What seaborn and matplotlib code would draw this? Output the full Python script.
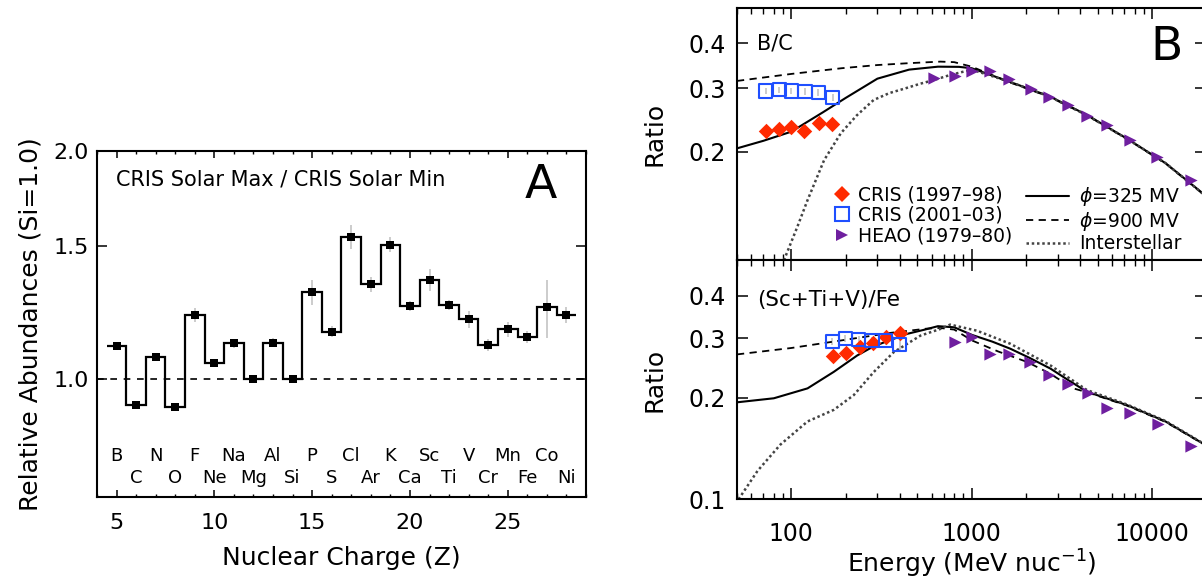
import numpy as np
import matplotlib.pyplot as plt
import matplotlib.ticker as mticker
from matplotlib.lines import Line2D
from matplotlib.transforms import blended_transform_factory
import seaborn as sns

# ---- Panel A: CRIS solar max / solar min abundances ----
charge = [5, 6, 7, 8, 9, 10, 11, 12, 13, 14, 15, 16,
          17, 18, 19, 20, 21, 22, 23, 24, 25, 26, 27, 28]
elements = ["B", "C", "N", "O", "F", "Ne", "Na", "Mg", "Al", "Si", "P", "S",
            "Cl", "Ar", "K", "Ca", "Sc", "Ti", "V", "Cr", "Mn", "Fe", "Co", "Ni"]
abund_ratio = [1.105, 0.924, 1.071, 0.920, 1.215, 1.051, 1.115, 1.000,
               1.117, 1.000, 1.303, 1.155, 1.540, 1.334, 1.504, 1.249,
               1.350, 1.252, 1.199, 1.109, 1.163, 1.136, 1.243, 1.216]
abund_err = [0.010, 0.010, 0.012, 0.010, 0.025, 0.012, 0.015, 0.012,
             0.015, 0.000, 0.050, 0.020, 0.055, 0.030, 0.035, 0.020,
             0.045, 0.020, 0.030, 0.020, 0.025, 0.020, 0.110, 0.030]

# ---- Panel B (top): B/C ----
bc_cris97_e = [72, 85, 100, 118, 142, 169]
bc_cris97_r = [0.228, 0.231, 0.235, 0.228, 0.241, 0.239]
bc_cris01_e = [72, 86, 100, 119, 141, 170]
bc_cris01_r = [0.295, 0.297, 0.295, 0.294, 0.292, 0.283]
bc_cris01_err = [0.006, 0.006, 0.006, 0.006, 0.006, 0.007]
bc_heao_e = [616, 805, 1005, 1269, 1602, 2140, 2692, 3416, 4352, 5656, 7555, 10620, 16440]
bc_heao_r = [0.320, 0.325, 0.335, 0.335, 0.318, 0.298, 0.284, 0.270, 0.252,
             0.237, 0.215, 0.194, 0.167]

bc_325_e = [50, 70, 100, 150, 200, 300, 450, 650, 850, 1000, 1600, 2700,
            4350, 7200, 11900, 20000]
bc_325_r = [0.2044, 0.2145, 0.2274, 0.2575, 0.2820, 0.3190, 0.3380, 0.3444,
            0.3440, 0.3410, 0.3135, 0.2850, 0.2530, 0.2180, 0.1858, 0.1505]
bc_900_e = [50, 100, 190, 300, 440, 670, 800, 1000, 1600, 2700, 4350, 7200,
            11900, 20000]
bc_900_r = [0.3144, 0.3288, 0.3410, 0.3480, 0.3520, 0.3557, 0.3545, 0.3444,
            0.3125, 0.2840, 0.2525, 0.2175, 0.1855, 0.1500]
bc_lis_e = [91, 108, 123, 152, 188, 230, 286, 350, 430, 520, 615, 750, 900,
            1000, 1600, 2700, 4350, 7200, 11900, 20000]
bc_lis_r = [0.100, 0.1238, 0.1468, 0.1896, 0.2250, 0.2520, 0.2784, 0.2910,
            0.3000, 0.3090, 0.3160, 0.3260, 0.3336, 0.3380, 0.3135, 0.2845,
            0.2525, 0.2178, 0.1858, 0.1503]

# ---- Panel B (bottom): (Sc+Ti+V)/Fe ----
sf_cris97_e = [170, 200, 239, 283, 337, 399]
sf_cris97_r = [0.265, 0.271, 0.282, 0.291, 0.302, 0.311]
sf_cris97_err = [0.008, 0.008, 0.008, 0.008, 0.009, 0.010]
sf_cris01_e = [169, 199, 236, 280, 334, 399]
sf_cris01_r = [0.293, 0.300, 0.297, 0.295, 0.295, 0.287]
sf_cris01_err = [0.007, 0.007, 0.007, 0.007, 0.008, 0.010]
sf_heao_e = [812, 1005, 1269, 1602, 2113, 2668, 3399, 4385, 5656, 7553, 10836, 16440]
sf_heao_r = [0.292, 0.303, 0.270, 0.270, 0.255, 0.233, 0.219, 0.206, 0.186,
             0.180, 0.167, 0.144]

sf_325_e = [50, 80, 123, 172, 232, 287, 438, 550, 650, 800, 1005, 1300, 1640,
            2100, 2730, 3400, 4350, 7230, 11870, 18900, 20000]
sf_325_r = [0.1937, 0.1991, 0.2130, 0.2384, 0.2666, 0.2840, 0.3088, 0.3180,
            0.3255, 0.3230, 0.3066, 0.2930, 0.2790, 0.2620, 0.2438, 0.2260,
            0.2082, 0.1902, 0.1700, 0.1468, 0.1442]
sf_900_e = [50, 100, 188, 355, 560, 670, 800, 1005, 1400, 2030, 2700, 3660,
            4350, 7230, 11870, 20000]
sf_900_r = [0.2685, 0.2805, 0.2952, 0.3110, 0.3200, 0.3215, 0.3180, 0.2952,
            0.2740, 0.2550, 0.2360, 0.2130, 0.2075, 0.1895, 0.1695, 0.1440]
sf_lis_e = [51, 65, 87, 123, 172, 222, 287, 370, 520, 670, 760, 1070, 1640,
            2730, 4350, 7230, 11870, 20000]
sf_lis_r = [0.100, 0.1214, 0.1452, 0.1700, 0.1840, 0.2035, 0.2384, 0.2728,
            0.3052, 0.3194, 0.3290, 0.3156, 0.2886, 0.2492, 0.2106, 0.1910,
            0.1705, 0.1445]

red = "#ff2a00"
blue = "#1f4fff"
purple = "#6f1f9f"
grey_err = "#c4c4c4"

sns.set_theme(style="ticks")
plt.rcParams["font.family"] = ["DejaVu Sans"]
plt.rcParams["axes.linewidth"] = 1.5
plt.rcParams["axes.edgecolor"] = "black"
plt.rcParams["text.color"] = "black"
plt.rcParams["axes.labelcolor"] = "black"
plt.rcParams["xtick.color"] = "black"
plt.rcParams["ytick.color"] = "black"

fig = plt.figure(figsize=(12.02, 5.81), dpi=100)

# ================= Panel A =================
axA = fig.add_axes([97 / 1202, 84.3 / 581, 489 / 1202, 346 / 581])
axA.set_yscale("log")

axA.axhline(1.0, color="black", lw=1.2, ls=(0, (4, 4)), zorder=1)
axA.errorbar(charge, abund_ratio, yerr=abund_err, fmt="none",
             ecolor=grey_err, elinewidth=1.2, zorder=1)
edges = np.append(np.array(charge) - 0.5, charge[-1] + 0.5)
axA.stairs(abund_ratio, edges, baseline=None, color="black", lw=1.6, zorder=2)
sns.scatterplot(x=charge, y=abund_ratio, marker="s", color="black",
                edgecolor="black", linewidth=0, s=32, ax=axA, zorder=3,
                legend=False)

axA.set_xlim(4, 29)
axA.set_ylim(0.7, 2.0)
axA.xaxis.set_major_locator(mticker.MultipleLocator(5))
axA.xaxis.set_minor_locator(mticker.MultipleLocator(1))
axA.yaxis.set_major_locator(mticker.FixedLocator([1.0, 1.5, 2.0]))
axA.yaxis.set_major_formatter(mticker.FixedFormatter(["1.0", "1.5", "2.0"]))
axA.yaxis.set_minor_locator(mticker.NullLocator())
axA.tick_params(axis="x", which="major", direction="in", length=5, width=1.1,
                top=True, labelsize=16, pad=12)
axA.tick_params(axis="x", which="minor", direction="in", length=2.5, width=1.0,
                top=True)
axA.tick_params(axis="y", which="major", direction="in", length=7, width=1.1,
                right=True, labelsize=16, pad=6)
axA.set_xlabel("Nuclear Charge (Z)", fontsize=18, labelpad=9)
axA.set_ylabel("Relative Abundances (Si=1.0)", fontsize=18, labelpad=8)

trA = blended_transform_factory(axA.transData, axA.transAxes)
for i, (z, el) in enumerate(zip(charge, elements)):
    yrow = 0.118 if i % 2 == 0 else 0.054
    axA.text(z, yrow, el, transform=trA, ha="center", va="center", fontsize=13)

axA.text(0.039, 0.918, "CRIS Solar Max / CRIS Solar Min", transform=axA.transAxes,
         ha="left", va="center", fontsize=15)
axA.text(0.908, 0.898, "A", transform=axA.transAxes, ha="center", va="center",
         fontsize=34)

# ================= Panel B =================
axT = fig.add_axes([737 / 1202, (581 - 260.3) / 581, 469.4 / 1202, 252 / 581])
axB = fig.add_axes([737 / 1202, (581 - 499.3) / 581, 469.4 / 1202, 239 / 581])

dotted = (0, (1, 1.1))
dashed = (0, (4, 3))


def draw_panel(ax, e325, r325, e900, r900, elis, rlis,
               e97, r97, err97, e01, r01, err01, eheao, rheao):
    ax.set_xscale("log")
    ax.set_yscale("log")
    sns.lineplot(x=e325, y=r325, color="black", lw=1.5, sort=False,
                 estimator=None, ax=ax, zorder=2)
    sns.lineplot(x=e900, y=r900, color="black", lw=1.3, linestyle=dashed,
                 sort=False, estimator=None, ax=ax, zorder=2)
    sns.lineplot(x=elis, y=rlis, color="#444444", lw=1.8, linestyle=dotted,
                 sort=False, estimator=None, ax=ax, zorder=2)
    if err97 is not None:
        ax.errorbar(e97, r97, yerr=err97, fmt="none", ecolor=grey_err,
                    elinewidth=1.2, zorder=1)
    if err01 is not None:
        ax.errorbar(e01, r01, yerr=err01, fmt="none", ecolor=grey_err,
                    elinewidth=1.2, zorder=1)
    sns.scatterplot(x=e97, y=r97, marker="D", color=red, edgecolor=red,
                    linewidth=0, s=62, ax=ax, zorder=3, legend=False)
    sns.scatterplot(x=e01, y=r01, marker="s", facecolor="none", edgecolor=blue,
                    linewidth=1.5, s=90, ax=ax, zorder=3, legend=False)
    sns.scatterplot(x=eheao, y=rheao, marker=">", color=purple, edgecolor=purple,
                    linewidth=0, s=78, ax=ax, zorder=3, legend=False)

    ax.set_xlim(50, 20000)
    ax.xaxis.set_major_locator(mticker.FixedLocator([100, 1000, 10000]))
    ax.xaxis.set_major_formatter(mticker.FuncFormatter(lambda v, _: f"{v:g}"))
    ax.xaxis.set_minor_locator(mticker.LogLocator(base=10, subs=np.arange(2, 10)))
    ax.xaxis.set_minor_formatter(mticker.NullFormatter())
    ax.yaxis.set_minor_locator(mticker.NullLocator())
    ax.tick_params(axis="x", which="major", direction="in", length=8, width=1.1,
                   top=True, labelsize=17, pad=16)
    ax.tick_params(axis="x", which="minor", direction="in", length=4, width=1.0,
                   top=True)
    ax.tick_params(axis="y", which="major", direction="in", length=8, width=1.1,
                   right=True, labelsize=17, pad=8)
    ax.set_ylabel("Ratio", fontsize=18, labelpad=16)


draw_panel(axT, bc_325_e, bc_325_r, bc_900_e, bc_900_r, bc_lis_e, bc_lis_r,
           bc_cris97_e, bc_cris97_r, None, bc_cris01_e, bc_cris01_r, bc_cris01_err,
           bc_heao_e, bc_heao_r)
draw_panel(axB, sf_325_e, sf_325_r, sf_900_e, sf_900_r, sf_lis_e, sf_lis_r,
           sf_cris97_e, sf_cris97_r, sf_cris97_err, sf_cris01_e, sf_cris01_r,
           sf_cris01_err, sf_heao_e, sf_heao_r)

axT.set_ylim(0.1, 0.5)
axT.yaxis.set_major_locator(mticker.FixedLocator([0.2, 0.3, 0.4]))
axT.yaxis.set_major_formatter(mticker.FixedFormatter(["0.2", "0.3", "0.4"]))
axT.tick_params(axis="x", labelbottom=False)
axT.set_xlabel("")

axB.set_ylim(0.1, 0.51)
axB.yaxis.set_major_locator(mticker.FixedLocator([0.1, 0.2, 0.3, 0.4]))
axB.yaxis.set_major_formatter(mticker.FixedFormatter(["0.1", "0.2", "0.3", "0.4"]))
axB.set_xlabel("Energy (MeV nuc$^{-1}$)", fontsize=18, labelpad=2)

axT.text(0.042, 0.861, "B/C", transform=axT.transAxes, ha="left", va="center",
         fontsize=15)
axB.text(0.042, 0.833, "(Sc+Ti+V)/Fe", transform=axB.transAxes, ha="left",
         va="center", fontsize=15.5)
axT.text(0.916, 0.846, "B", transform=axT.transAxes, ha="center", va="center",
         fontsize=34)

# legend, two blocks
mark_handles = [
    Line2D([], [], marker="D", color=red, ls="none", ms=8, mew=0),
    Line2D([], [], marker="s", mfc="none", mec=blue, mew=1.5, ls="none", ms=9.5),
    Line2D([], [], marker=">", color=purple, ls="none", ms=8.8, mew=0),
]
mark_labels = ["CRIS (1997\u201398)", "CRIS (2001\u201303)", "HEAO (1979\u201380)"]
line_handles = [
    Line2D([], [], color="black", lw=1.5),
    Line2D([], [], color="black", lw=1.3, ls=dashed),
    Line2D([], [], color="#444444", lw=1.8, ls=dotted),
]
line_labels = ["$\\phi$=325 MV", "$\\phi$=900 MV", "Interstellar"]

leg1 = axT.legend(mark_handles, mark_labels, loc="upper left",
                  bbox_to_anchor=(0.203, 0.297), frameon=False, fontsize=13.5,
                  handlelength=1.0, handletextpad=0.35, labelspacing=0.07,
                  borderpad=0, borderaxespad=0)
axT.add_artist(leg1)
axT.legend(line_handles, line_labels, loc="upper left",
           bbox_to_anchor=(0.615, 0.297), frameon=False, fontsize=13.5,
           handlelength=2.3, handletextpad=0.55, labelspacing=0.07,
           borderpad=0, borderaxespad=0)

fig.savefig("out.png", dpi=100)
